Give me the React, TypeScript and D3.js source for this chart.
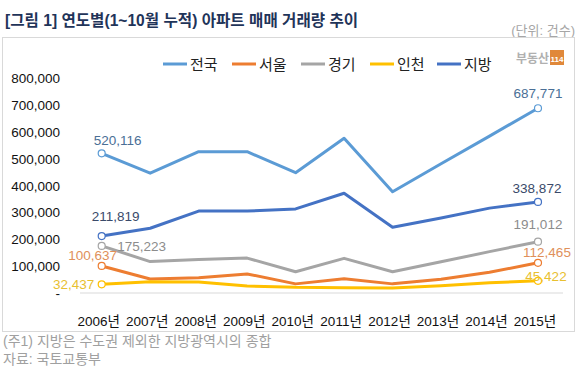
import { useEffect } from "react";
import * as d3 from "d3";

// chart data
const years = ["2006", "2007", "2008", "2009", "2010", "2011", "2012", "2013", "2014", "2015"];
const seriesNames = ["전국", "서울", "경기", "인천", "지방"];
const national = [520116, 446000, 526000, 526000, 448000, 576000, 377000, 481000, 584000, 687771];
const seoul = [100637, 52000, 57000, 71000, 34000, 53000, 34000, 51000, 77000, 112465];
const gyeonggi = [175223, 117000, 125000, 130000, 79000, 129000, 79000, 116000, 154000, 191012];
const incheon = [32437, 42000, 41000, 26000, 21000, 20000, 19000, 27000, 38000, 45422];
const regional = [211819, 241000, 305000, 305000, 313000, 371288, 245000, 279000, 316000, 338872];
const yTicks = [0, 100000, 200000, 300000, 400000, 500000, 600000, 700000, 800000];

const colors = ["#5b9bd5", "#ed7d31", "#a5a5a5", "#ffc000", "#4472c4"];
const labelColors = ["#4a6f96", "#e0905a", "#8c8c8c", "#e8c030", "#3a4a6a"];

const font = "'Liberation Sans', 'Noto Sans CJK KR', sans-serif";

const W = 580;
const H = 371;

const App = () => {
  useEffect(() => {
    document.body.style.margin = "0";
  }, []);

  const allSeries = [national, seoul, gyeonggi, incheon, regional];

  const x = d3.scalePoint().domain(years).range([101.7, 538]);
  const y = d3.scaleLinear().domain([0, 800000]).range([293, 78.1]);

  const line = d3
    .line<number>()
    .x((d, i) => x(years[i]) as number)
    .y((d) => y(d));

  const fmt = d3.format(",");

  // data label offsets (first / last point) per series
  const labelPos = [
    [
      [16, -8],
      [0, -10],
    ],
    [
      [-9, -6],
      [9, -6],
    ],
    [
      [40, 5],
      [0, -13],
    ],
    [
      [-28, 5],
      [8, 0],
    ],
    [
      [14, -15],
      [-1, -9],
    ],
  ];

  const legendX = [163, 232, 301, 370, 437];

  return (
    <svg width={W} height={H} style={{ display: "block", background: "#fff" }} fontFamily={font}>
      <rect x={0} y={0} width={W} height={H} fill="#fff" />
      {/* title */}
      <text x={5} y={26} fontSize={15.6} fontWeight="bold" fill="#1f3459">
        [그림 1] 연도별(1~10월 누적) 아파트 매매 거래량 추이
      </text>
      <text x={575} y={35} fontSize={13} fill="#a6a6a6" textAnchor="end">
        (단위: 건수)
      </text>
      {/* frame */}
      <rect x={2.5} y={37.5} width={572} height={294} fill="#fff" stroke="#d9d9d9" />
      {/* logo */}
      <text x={549} y={63} fontSize={12} fontWeight="bold" fill="#b0b0b0" textAnchor="end">
        부동산
      </text>
      <rect x={550} y={50} width={14} height={15} fill="#e0883a" />
      <text x={557} y={61.5} fontSize={8} fontWeight="bold" fill="#fff" textAnchor="middle">
        114
      </text>
      {/* legend */}
      {seriesNames.map((n, i) => (
        <g key={n}>
          <line x1={legendX[i]} x2={legendX[i] + 24} y1={64} y2={64} stroke={colors[i]} strokeWidth={3} />
          <text x={legendX[i] + 27} y={69.5} fontSize={15} fill="#222">
            {n}
          </text>
        </g>
      ))}
      {/* y axis labels */}
      {yTicks.map((t) => (
        <text key={t} x={60} y={y(t) + 5} fontSize={13.5} fill="#111" textAnchor="end">
          {t === 0 ? "-" : fmt(t)}
        </text>
      ))}
      {/* baseline */}
      <line x1={80} x2={563} y1={y(0)} y2={y(0)} stroke="#d9d9d9" strokeWidth={1} />
      {/* x axis labels */}
      {years.map((yr) => (
        <text key={yr} x={(x(yr) as number) - 3} y={326} fontSize={13.5} fill="#111" textAnchor="middle">
          {yr}년
        </text>
      ))}
      {/* lines */}
      {allSeries.map((s, i) => (
        <path
          key={i}
          d={line(s) || ""}
          fill="none"
          stroke={colors[i]}
          strokeWidth={3}
          strokeLinejoin="round"
        />
      ))}
      {/* end markers and data labels */}
      {allSeries.map((s, i) =>
        [0, s.length - 1].map((k, j) => {
          const px = x(years[k]) as number;
          const py = y(s[k]);
          const [dx, dy] = labelPos[i][j];
          return (
            <g key={i + "-" + k}>
              <circle cx={px} cy={py} r={3.5} fill="#fff" stroke={colors[i]} strokeWidth={1.2} />
              <text x={px + dx} y={py + dy} fontSize={13.5} fill={labelColors[i]} textAnchor="middle">
                {fmt(s[k])}
              </text>
            </g>
          );
        })
      )}
      {/* footnotes */}
      <text x={3} y={346} fontSize={14} fill="#a0a0a0">
        (주1) 지방은 수도권 제외한 지방광역시의 종합
      </text>
      <text x={3} y={364} fontSize={14} fill="#a0a0a0">
        자료: 국토교통부
      </text>
    </svg>
  );
};

export default App;
